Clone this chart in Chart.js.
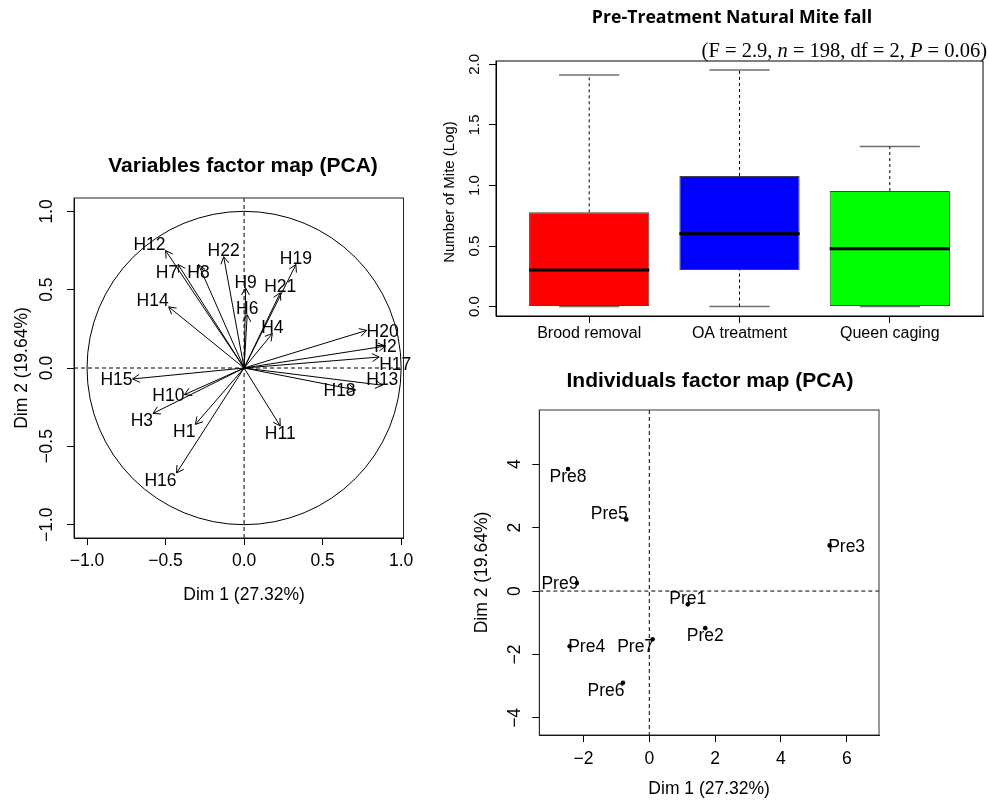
<!DOCTYPE html>
<html>
<head>
<meta charset="utf-8">
<script src="https://cdn.jsdelivr.net/npm/chart.js@4.4.1/dist/chart.umd.min.js"></script>
<style>
html,body{margin:0;padding:0;background:#ffffff;}
body{width:989px;height:801px;position:relative;overflow:hidden;}
canvas{position:absolute;left:0;top:0;}
</style>
</head>
<body>
<canvas id="cVar" width="989" height="801"></canvas>
<canvas id="cBox" width="989" height="801"></canvas>
<canvas id="cInd" width="989" height="801"></canvas>
<script>
// ---------------- DATA ----------------
// Variables factor map (PCA): coordinates of the variable arrows
const varNames = ['H1','H2','H3','H4','H6','H7','H8','H9','H10','H11','H12','H13','H14','H15','H16','H17','H18','H19','H20','H21','H22'];
const varDim1  = [-0.31, 0.90,-0.58, 0.18, 0.02,-0.42,-0.29, 0.01,-0.38, 0.23,-0.50, 0.88,-0.48,-0.71,-0.43, 0.86, 0.71, 0.33, 0.78, 0.23,-0.13];
const varDim2  = [-0.36, 0.14,-0.29, 0.22, 0.34, 0.66, 0.66, 0.51,-0.17,-0.37, 0.75,-0.11, 0.39,-0.07,-0.67, 0.07,-0.14, 0.66, 0.24, 0.48, 0.71];
const varLabelSide = ['sw','c','sw','n','n','sw','s','n','w','s','nw','n','nw','w','sw','se','w','n','e','n','n'];
const varTicks = [-1.0,-0.5,0.0,0.5,1.0];

// Pre-Treatment Natural Mite fall (box plot, log number of mites)
const boxCategories = ['Brood removal','OA treatment','Queen caging'];
const boxMin    = [0.000, 0.000, 0.000];
const boxQ1     = [0.000, 0.301, 0.000];
const boxMedian = [0.301, 0.602, 0.477];
const boxQ3     = [0.778, 1.079, 0.954];
const boxMax    = [1.912, 1.954, 1.322];
const boxColors = ['#ff0000','#0000ff','#00ff00'];
const boxYTicks = [0.0,0.5,1.0,1.5,2.0];

// Individuals factor map (PCA)
const indNames = ['Pre1','Pre2','Pre3','Pre4','Pre5','Pre6','Pre7','Pre8','Pre9'];
const indDim1  = [ 1.17, 1.70, 5.48,-2.42,-0.70,-0.80, 0.10,-2.47,-2.20];
const indDim2  = [-0.42,-1.17, 1.44,-1.74, 2.26,-2.89,-1.52, 3.85, 0.25];
const indLabelSide = ['n','s','e','e','nw','sw','sw','s','w'];
const indXTicks = [-2,0,2,4,6];
const indYTicks = [-4,-2,0,2,4];

// ---------------- HELPERS ----------------
const SANS = "'Liberation Sans', Arial, Helvetica, sans-serif";
const SERIF = "'Liberation Serif', 'Times New Roman', serif";
Chart.defaults.font.family = SANS;
Chart.defaults.color = '#000';

function fmtR(v, dec){ const s = Math.abs(v).toFixed(dec); return (v < 0 ? '\u2212' : '') + s; }

function placeText(ctx, text, x, y, side, capH, gap){
  let align = 'center', by;
  if (side.indexOf('w') >= 0){ align = 'right'; x -= gap; }
  else if (side.indexOf('e') >= 0){ align = 'left'; x += gap; }
  if (side.indexOf('n') >= 0) by = y - 0.5;
  else if (side.indexOf('s') >= 0) by = y + capH + 0.5;
  else by = y + capH/2;
  ctx.textAlign = align; ctx.textBaseline = 'alphabetic';
  ctx.fillText(text, x, by);
}

function axisCfg(opts){
  return Object.assign({
    type: 'linear',
    offset: false,
    grid: { display: true, drawOnChartArea: false, drawTicks: true, tickLength: 7, color: '#000', lineWidth: 1, offset: false },
    border: { display: true, color: '#000', width: 1 },
  }, opts);
}

function frameAndZero(chart, color, zeroLines){
  const ctx = chart.ctx, a = chart.chartArea;
  ctx.save();
  if (zeroLines){
    const sx = chart.scales.x, sy = chart.scales.y;
    ctx.strokeStyle = '#000'; ctx.lineWidth = 1; ctx.setLineDash([4,3]);
    const px = sx.getPixelForValue(0), py = sy.getPixelForValue(0);
    ctx.beginPath(); ctx.moveTo(a.left, py); ctx.lineTo(a.right, py); ctx.stroke();
    ctx.beginPath(); ctx.moveTo(px, a.top); ctx.lineTo(px, a.bottom); ctx.stroke();
    ctx.setLineDash([]);
  }
  ctx.strokeStyle = color; ctx.lineWidth = 1;
  ctx.strokeRect(a.left, a.top, a.right - a.left, a.bottom - a.top);
  ctx.restore();
}

function drawRotated(ctx, text, x, y, font){
  ctx.save(); ctx.translate(x, y); ctx.rotate(-Math.PI/2);
  ctx.font = font; ctx.textAlign = 'center'; ctx.textBaseline = 'middle'; ctx.fillStyle = '#000';
  ctx.fillText(text, 0, 0); ctx.restore();
}

// ---------------- VARIABLES FACTOR MAP ----------------
const varPlugin = {
  id: 'varPlugin',
  beforeDatasetsDraw(chart){
    frameAndZero(chart, '#222', true);
    const ctx = chart.ctx, sx = chart.scales.x, sy = chart.scales.y;
    const cx = sx.getPixelForValue(0), cy = sy.getPixelForValue(0);
    const rx = sx.getPixelForValue(1) - cx, ry = cy - sy.getPixelForValue(1);
    ctx.save(); ctx.strokeStyle = '#000'; ctx.lineWidth = 1;
    ctx.beginPath(); ctx.ellipse(cx, cy, rx, ry, 0, 0, Math.PI*2); ctx.stroke(); ctx.restore();
  },
  afterDatasetsDraw(chart){
    const ctx = chart.ctx;
    ctx.save();
    ctx.strokeStyle = '#000'; ctx.lineWidth = 1; ctx.fillStyle = '#000';
    ctx.font = '17.5px ' + SANS;
    chart.data.datasets.forEach((ds, i) => {
      const m = chart.getDatasetMeta(i);
      const o = m.data[0], t = m.data[1];
      const ang = Math.atan2(t.y - o.y, t.x - o.x), L = 8, h = Math.PI/6;
      ctx.beginPath();
      ctx.moveTo(t.x - L*Math.cos(ang - h), t.y - L*Math.sin(ang - h));
      ctx.lineTo(t.x, t.y);
      ctx.lineTo(t.x - L*Math.cos(ang + h), t.y - L*Math.sin(ang + h));
      ctx.stroke();
      placeText(ctx, varNames[i], t.x, t.y, varLabelSide[i], 12.5, 0);
    });
    ctx.restore();
  },
  afterDraw(chart){
    const ctx = chart.ctx;
    ctx.save(); ctx.fillStyle = '#000';
    ctx.font = 'bold 21px ' + SANS; ctx.textAlign = 'center'; ctx.textBaseline = 'alphabetic';
    ctx.fillText('Variables factor map (PCA)', 243, 172);
    ctx.font = '17.5px ' + SANS; ctx.textBaseline = 'middle';
    ctx.fillText('Dim 1 (27.32%)', chart.scales.x.getPixelForValue(0), 595);
    ctx.restore();
    drawRotated(ctx, 'Dim 2 (19.64%)', 22, chart.scales.y.getPixelForValue(0), '17.5px ' + SANS);
  }
};

new Chart(document.getElementById('cVar'), {
  type: 'line',
  data: {
    datasets: varNames.map((n, i) => ({
      label: n,
      data: [{x: 0, y: 0}, {x: varDim1[i], y: varDim2[i]}],
      borderColor: '#000', borderWidth: 1, pointRadius: 0, fill: false, tension: 0
    }))
  },
  options: {
    responsive: false, animation: false, events: [],
    layout: { padding: { left: 14, top: 198, right: 585.5, bottom: 203 } },
    plugins: { legend: { display: false }, tooltip: { enabled: false } },
    scales: {
      x: axisCfg({
        min: -1.083, max: 1.015,
        afterFit: s => { s.height = 60; },
        afterBuildTicks: s => { s.ticks = varTicks.map(v => ({value: v})); },
        ticks: { callback: v => fmtR(v, 1), font: { size: 17.5 }, padding: 6, maxRotation: 0, minRotation: 0, autoSkip: false, color: '#000' }
      }),
      y: axisCfg({
        min: -1.085, max: 1.085,
        afterFit: s => { s.width = 60; },
        afterBuildTicks: s => { s.ticks = varTicks.map(v => ({value: v})); },
        ticks: { callback: v => fmtR(v, 1), font: { size: 17.5 }, padding: 3, minRotation: 90, maxRotation: 90, crossAlign: 'center', autoSkip: false, color: '#000' }
      })
    }
  },
  plugins: [varPlugin]
});

// ---------------- BOX PLOT ----------------
const halfWidth = (chart, units) => {
  const s = chart.scales.x;
  return Math.abs(s.getPixelForValue(1 + units) - s.getPixelForValue(1));
};
const whiskerData = [];
boxCategories.forEach((c, i) => {
  whiskerData.push({x: i+1, y: boxQ3[i]}, {x: i+1, y: boxMax[i]}, {x: i+1.5, y: null});
  whiskerData.push({x: i+1, y: boxMin[i]}, {x: i+1, y: boxQ1[i]}, {x: i+1.5, y: null});
});
const capData = [];
boxCategories.forEach((c, i) => { capData.push({x: i+1, y: boxMax[i]}, {x: i+1, y: boxMin[i]}); });

const boxPlugin = {
  id: 'boxPlugin',
  beforeDatasetsDraw(chart){ frameAndZero(chart, '#000', false); },
  afterDraw(chart){
    const ctx = chart.ctx;
    ctx.save(); ctx.fillStyle = '#000';
    ctx.font = 'bold 17.7px "Open Sans", ' + SANS; ctx.textAlign = 'center'; ctx.textBaseline = 'alphabetic';
    ctx.fillText('Pre-Treatment Natural Mite fall', 732, 23);
    // statistics annotation (serif, italic n and P)
    const parts = [['(F = 2.9, ', false], ['n', true], [' = 198, df = 2, ', false], ['P', true], [' = 0.06)', false]];
    let total = 0;
    parts.forEach(p => { ctx.font = (p[1] ? 'italic ' : '') + '20.5px ' + SERIF; p.w = ctx.measureText(p[0]).width; total += p.w; });
    let x = 987 - total;
    ctx.textAlign = 'left';
    parts.forEach(p => { ctx.font = (p[1] ? 'italic ' : '') + '20.5px ' + SERIF; ctx.fillText(p[0], x, 57); x += p.w; });
    ctx.restore();
    drawRotated(ctx, 'Number of Mite (Log)', 450, 192, '15px ' + SANS);
  }
};

new Chart(document.getElementById('cBox'), {
  type: 'bar',
  data: {
    datasets: [
      { type: 'scatter', label: 'Median', data: boxCategories.map((c, i) => ({x: i+1, y: boxMedian[i]})),
        pointStyle: 'line', pointRadius: ctx => halfWidth(ctx.chart, 0.4), pointBorderWidth: 3,
        borderColor: '#000', pointBorderColor: '#000', order: 0 },
      { type: 'bar', label: 'IQR', data: boxCategories.map((c, i) => ({x: i+1, y: [boxQ1[i], boxQ3[i]]})),
        backgroundColor: boxColors, borderColor: '#444', borderWidth: 1, borderSkipped: false,
        barPercentage: 0.8, categoryPercentage: 1, order: 1 },
      { type: 'line', label: 'Whiskers', data: whiskerData, borderColor: '#000', borderWidth: 1,
        borderDash: [3, 3], pointRadius: 0, spanGaps: false, fill: false, order: 2 },
      { type: 'scatter', label: 'Caps', data: capData, pointStyle: 'line',
        pointRadius: ctx => halfWidth(ctx.chart, 0.2), pointBorderWidth: 1.5,
        borderColor: '#6e6e6e', pointBorderColor: '#6e6e6e', order: 3 }
    ]
  },
  options: {
    responsive: false, animation: false, events: [],
    layout: { padding: { left: 436, top: 61, right: 6, bottom: 425 } },
    plugins: { legend: { display: false }, tooltip: { enabled: false } },
    scales: {
      x: axisCfg({
        min: 0.38, max: 3.62,
        afterFit: s => { s.height = 60; },
        afterBuildTicks: s => { s.ticks = boxCategories.map((c, i) => ({value: i+1})); },
        ticks: { callback: v => boxCategories[Math.round(v) - 1], font: { size: 16 }, padding: 0.5, maxRotation: 0, minRotation: 0, autoSkip: false, color: '#000' }
      }),
      y: axisCfg({
        min: -0.078, max: 2.028,
        afterFit: s => { s.width = 60; },
        afterBuildTicks: s => { s.ticks = boxYTicks.map(v => ({value: v})); },
        ticks: { callback: v => fmtR(v, 1), font: { size: 15 }, padding: 3.6, minRotation: 90, maxRotation: 90, crossAlign: 'center', autoSkip: false, color: '#000' }
      })
    }
  },
  plugins: [boxPlugin]
});

// ---------------- INDIVIDUALS FACTOR MAP ----------------
const indPlugin = {
  id: 'indPlugin',
  beforeDatasetsDraw(chart){ frameAndZero(chart, '#333', true); },
  afterDatasetsDraw(chart){
    const ctx = chart.ctx, m = chart.getDatasetMeta(0);
    ctx.save(); ctx.fillStyle = '#000'; ctx.font = '17.5px ' + SANS;
    m.data.forEach((p, i) => placeText(ctx, indNames[i], p.x, p.y, indLabelSide[i], 12.5, -1.5));
    ctx.restore();
  },
  afterDraw(chart){
    const ctx = chart.ctx;
    ctx.save(); ctx.fillStyle = '#000';
    ctx.font = 'bold 21px ' + SANS; ctx.textAlign = 'center'; ctx.textBaseline = 'alphabetic';
    ctx.fillText('Individuals factor map (PCA)', 710, 387);
    ctx.font = '17.5px ' + SANS; ctx.textBaseline = 'middle';
    const a = chart.chartArea;
    ctx.fillText('Dim 1 (27.32%)', (a.left + a.right)/2, 789);
    ctx.restore();
    drawRotated(ctx, 'Dim 2 (19.64%)', 482, (a.top + a.bottom)/2, '17.5px ' + SANS);
  }
};

new Chart(document.getElementById('cInd'), {
  type: 'scatter',
  data: {
    datasets: [{
      label: 'Individuals',
      data: indNames.map((n, i) => ({x: indDim1[i], y: indDim2[i]})),
      pointRadius: 2.3, pointBackgroundColor: '#000', pointBorderColor: '#000', pointBorderWidth: 0
    }]
  },
  options: {
    responsive: false, animation: false, events: [],
    layout: { padding: { left: 479.3, top: 410, right: 110, bottom: 6 } },
    plugins: { legend: { display: false }, tooltip: { enabled: false } },
    scales: {
      x: axisCfg({
        min: -3.343, max: 6.98,
        afterFit: s => { s.height = 60; },
        afterBuildTicks: s => { s.ticks = indXTicks.map(v => ({value: v})); },
        ticks: { callback: v => fmtR(v, 0), font: { size: 17.5 }, padding: 6.8, maxRotation: 0, minRotation: 0, autoSkip: false, color: '#000' }
      }),
      y: axisCfg({
        min: -4.54, max: 5.71,
        afterFit: s => { s.width = 60; },
        afterBuildTicks: s => { s.ticks = indYTicks.map(v => ({value: v})); },
        ticks: { callback: v => fmtR(v, 0), font: { size: 17.5 }, padding: 7.3, minRotation: 90, maxRotation: 90, crossAlign: 'center', autoSkip: false, color: '#000' }
      })
    }
  },
  plugins: [indPlugin]
});
</script>
</body>
</html>
